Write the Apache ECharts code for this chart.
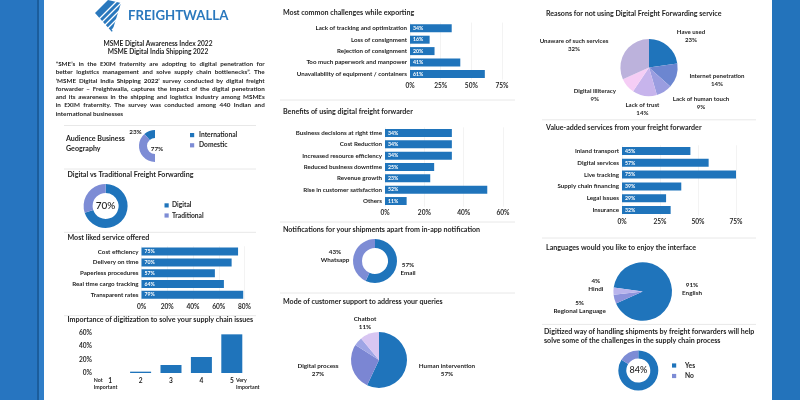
<!DOCTYPE html>
<html><head><meta charset="utf-8">
<script src="https://cdn.jsdelivr.net/npm/echarts@6/dist/echarts.min.js"></script>
<style>html,body{margin:0;padding:0;background:#fff}#c{width:800px;height:400px}</style>
</head><body><div id="c"></div>
<script>
// ---------------- DATA ----------------
const likedCats = ['Cost efficiency','Delivery on time','Paperless procedures','Real time cargo tracking','Transparent rates'];
const likedVals = [75,70,57,64,79];
const likedTicks = [0,20,40,60,80];
const importanceCats = ['1','2','3','4','5'];
const importanceVals = [0,2,12,24,58];
const importanceTicks = [0,20,40,60];
const challengeCats = ['Lack of tracking and optimization','Loss of consignment','Rejection of consignment','Too much paperwork and manpower','Unavailability of equipment / containers'];
const challengeVals = [34,16,20,41,61];
const challengeTicks = [0,25,50,75];
const benefitCats = ['Business decisions at right time','Cost Reduction','Increased resource efficiency','Reduced business downtime','Revenue growth','Rise in customer satisfaction','Others'];
const benefitVals = [34,34,34,25,23,52,11];
const benefitTicks = [0,20,40,60];
const valueCats = ['Inland transport','Digital services','Live tracking','Supply chain financing','Legal issues','Insurance'];
const valueVals = [45,57,75,39,29,32];
const valueTicks = [0,25,50,75];
const geoNames = ['International','Domestic'];
const geoVals = [23,77];
const digitalNames = ['Digital','Traditional'];
const digitalVals = [70,30];
const notifNames = ['Email','Whatsapp'];
const notifVals = [57,43];
const supportNames = ['Human intervention','Digital process','Other','Chatbot'];
const supportVals = [57,27,5,11];
const reasonNames = ['Have used','Internet penetration','Lack of human touch','Lack of trust','Digital illiteracy','Unaware of such services'];
const reasonVals = [23,14,9,14,9,32];
const langNames = ['English','Regional Language','Hindi'];
const langVals = [91,5,4];
const yesNoNames = ['Yes','No'];
const yesNoVals = [84,16];

// ---------------- STYLE ----------------
const BLUE = '#1f74bb', LIGHT = '#7d8cd5';
const FONT = 'Lato';
const TXT = '#1e1e1e';

const grids = [], xAxes = [], yAxes = [], series = [], g = [];

function hbar(cats, vals, ticks, left, width, top, height) {
  const idx = grids.length;
  grids.push({left, top, width, height, outerBoundsMode:'none', containLabel:false});
  xAxes.push({gridIndex:idx, type:'value', min:ticks[0], max:ticks[ticks.length-1], interval:ticks[1]-ticks[0],
    axisLabel:{formatter:'{value}%', fontSize:6.6, color:'#2a2a2a', fontWeight:700, fontFamily:FONT, margin:3},
    axisLine:{show:false}, axisTick:{show:false}, splitLine:{show:true, lineStyle:{color:'#f0f0f0', width:0.8}}});
  yAxes.push({gridIndex:idx, type:'category', data:cats, inverse:true,
    axisLine:{show:false}, axisTick:{show:false},
    axisLabel:{fontSize:6.2, color:TXT, fontWeight:700, fontFamily:FONT, margin:3}});
  series.push({type:'bar', xAxisIndex:idx, yAxisIndex:idx, data:vals, barWidth:8, silent:true,
    itemStyle:{color:BLUE},
    label:{show:true, position:'insideLeft', formatter:'{c}%', fontSize:5.2, color:'#fff', fontFamily:FONT, fontWeight:700, distance:3}});
}

function pie(names, vals, colors, center, radius, extra) {
  series.push(Object.assign({type:'pie', center, radius, silent:true, startAngle:90, clockwise:true,
    data:names.map((n,i)=>({name:n, value:vals[i], itemStyle:{color:colors[i]}})),
    label:{show:false}, labelLine:{show:false}, emphasis:{disabled:true}, itemStyle:{borderWidth:0}}, extra||{}));
}

function txt(x, y, text, o) {
  const s = Object.assign({text, fill:TXT, fontSize:6.5, fontWeight:700, fontFamily:FONT,
    align:'left', textAlign:'left', verticalAlign:'middle', textVerticalAlign:'middle'}, o||{});
  if (s.align) s.textAlign = s.align;
  g.push({type:'text', x, y, silent:true, z:10, style:s});
}
function ctxt(x, y, text, o) { txt(x, y, text, Object.assign({align:'center', lineHeight:8}, o||{})); }
function hline(x1, x2, y) { g.push({type:'line', silent:true, shape:{x1, y1:y, x2, y2:y}, style:{stroke:'#e8e8e8', lineWidth:1}}); }
function rect(x, y, w, h, c) { g.push({type:'rect', silent:true, shape:{x, y, width:w, height:h}, style:{fill:c}}); }
function title(x, y, text, o) { txt(x, y, text, Object.assign({fontSize:7.1, fontWeight:700}, o||{})); }

// ---------------- FRAME ----------------
rect(0, 0, 37, 400, '#2775c0');
rect(37, 0, 2, 400, '#1b5d9c');
rect(39, 0, 5, 400, '#2f7ec8');
rect(772, 0, 28, 400, '#2373bb');

// logo
g.push({type:'polygon', silent:true, shape:{points:[[95,13],[108,0],[121,3],[112,32]]}, style:{fill:'#2a78bd'}});
for (let k = 0; k < 5; k++) {
  const c = 118 + 6*k;
  g.push({type:'line', silent:true, shape:{x1:c-30, y1:30, x2:c+5, y2:-5}, style:{stroke:'#fff', lineWidth:1.3}});
}
txt(128, 16, 'FREIGHTWALLA', {fontSize:13.2, fontWeight:700, fill:'#2a78bd'});

// header and paragraph
ctxt(158, 44, 'MSME Digital Awareness Index 2022', {fontSize:6.6});
ctxt(158, 52.3, 'MSME Digital India Shipping 2022', {fontSize:6.6});
const paraLines = [
  '\u201cSME\u2019s in the EXIM fraternity are adopting to digital penetration for',
  'better logistics management and solve supply chain bottlenecks\u201d. The',
  '\u2018MSME Digital India Shipping 2022\u2019 survey conducted by digital freight',
  'forwarder \u2013 Freightwalla, captures the impact of the digital penetration',
  'and its awareness in the shipping and logistics industry among MSMEs',
  'in EXIM fraternity. The survey was conducted among 440 Indian and',
  'international businesses'
];
(function(){
  const PX = 55.7, PW = 209, FS = 6.3;
  const cv = document.createElement('canvas').getContext('2d');
  cv.font = '700 ' + FS + 'px ' + FONT;
  paraLines.forEach((line, li) => {
    const y = 64.1 + li * 8.27;
    const words = line.split(' ');
    if (li === paraLines.length - 1) { txt(PX, y, line, {fontSize:FS}); return; }
    const ws = words.map(w => cv.measureText(w).width);
    const tot = ws.reduce((a,b)=>a+b, 0);
    const gap = (PW - tot) / (words.length - 1);
    let x = PX;
    words.forEach((w, i) => { txt(x, y, w, {fontSize:FS}); x += ws[i] + gap; });
  });
})();

// separators
hline(64, 256, 125.5); hline(64, 256, 169); hline(64, 256, 232.3); hline(64, 256, 315.7);
hline(280, 515, 100); hline(280, 515, 222); hline(280, 515, 293);
hline(542, 756, 119.8); hline(542, 756, 238); hline(542, 756, 324.4);

// ---------------- LEFT COLUMN ----------------
// Audience Business Geography (half donut)
txt(66, 139.2, 'Audience Business', {fontSize:7.1});
txt(66, 148.6, 'Geography', {fontSize:7.1});
series.push({type:'pie', center:[155,146], radius:[8,16], startAngle:90, clockwise:false, silent:true,
  data:[{name:geoNames[0], value:geoVals[0], itemStyle:{color:BLUE}},
        {name:geoNames[1], value:geoVals[1], itemStyle:{color:LIGHT}},
        {name:'', value:geoVals[0]+geoVals[1], itemStyle:{color:'rgba(0,0,0,0)'}}],
  label:{show:false}, labelLine:{show:false}, emphasis:{disabled:true}});
ctxt(135.5, 132.4, geoVals[0] + '%', {fontSize:6.3});
ctxt(157, 148.6, geoVals[1] + '%', {fontSize:6.3});
rect(190, 133, 4.2, 4.2, BLUE); txt(199, 135, geoNames[0], {fontSize:6.7});
rect(190, 143.2, 4.2, 4.2, LIGHT); txt(199, 145.2, geoNames[1], {fontSize:6.7});

// Digital vs Traditional
title(67.5, 174.6, 'Digital vs Traditional Freight Forwarding');
pie(digitalNames, digitalVals, [BLUE, LIGHT], [105.6, 206], [13, 22]);
ctxt(105.6, 206, digitalVals[0] + '%', {fontSize:10, fontWeight:500});
rect(164.5, 203.3, 4.2, 4.2, BLUE); txt(172, 205.3, digitalNames[0], {fontSize:6.7});
rect(164.5, 213.4, 4.2, 4.2, LIGHT); txt(172, 215.4, digitalNames[1], {fontSize:6.7});

// Most liked service
title(67.5, 238, 'Most liked service offered');
hbar(likedCats, likedVals, likedTicks, 141.5, 103, 246.2, 54);

// Importance of digitization
title(67.5, 320, 'Importance of digitization to solve your supply chain issues');
(function(){
  const idx = grids.length;
  grids.push({left:95, top:333, width:152, height:40, outerBoundsMode:'none', containLabel:false});
  xAxes.push({gridIndex:idx, type:'category', data:importanceCats, axisLine:{show:false}, axisTick:{show:false},
    axisLabel:{fontSize:6.6, color:TXT, fontWeight:700, fontFamily:FONT, margin:4}});
  yAxes.push({gridIndex:idx, type:'value', min:importanceTicks[0], max:importanceTicks[importanceTicks.length-1],
    interval:importanceTicks[1]-importanceTicks[0], axisLine:{show:false}, axisTick:{show:false}, splitLine:{show:false},
    axisLabel:{formatter:'{value}%', fontSize:6.6, color:'#2a2a2a', fontWeight:700, fontFamily:FONT, margin:3}});
  series.push({type:'bar', xAxisIndex:idx, yAxisIndex:idx, data:importanceVals, barWidth:21, silent:true, itemStyle:{color:BLUE}});
})();
txt(93.8, 380.5, 'Not', {fontSize:5.3});
txt(93.8, 387.6, 'Important', {fontSize:5.3});
txt(236, 380.5, 'Very', {fontSize:5.3});
txt(236, 387.6, 'Important', {fontSize:5.3});

// ---------------- MIDDLE COLUMN ----------------
title(283, 13, 'Most common challenges while exporting');
hbar(challengeCats, challengeVals, challengeTicks, 410, 92, 22.6, 57);

title(283, 112, 'Benefits of using digital freight forwarder');
hbar(benefitCats, benefitVals, benefitTicks, 385, 118, 127.3, 79.4);

title(283, 230, 'Notifications for your shipments apart from in-app notification');
pie(notifNames, notifVals, [BLUE, LIGHT], [375, 261], [13, 22]);
ctxt(335, 256, notifVals[1] + '%\n' + notifNames[1], {fontSize:6.3});
ctxt(408, 269, notifVals[0] + '%\n' + notifNames[0], {fontSize:6.3});

title(283, 302, 'Mode of customer support to address your queries');
pie(supportNames, supportVals, [BLUE, '#7b86d3', '#9ea5e5', '#d8c6f2'], [379, 360], [0, 28]);
ctxt(365, 323, supportNames[3] + '\n' + supportVals[3] + '%', {fontSize:6.3});
ctxt(318, 370, supportNames[1] + '\n' + supportVals[1] + '%', {fontSize:6.3});
ctxt(447, 370, supportNames[0] + '\n' + supportVals[0] + '%', {fontSize:6.3});

// ---------------- RIGHT COLUMN ----------------
title(546, 13.5, 'Reasons for not using Digital Freight Forwarding service');
pie(reasonNames, reasonVals, [BLUE, '#6c86d0', '#9a9de0', '#c7b4ec', '#f5cdf5', '#bcb2dc'], [649, 67.5], [0, 28.6]);
const reasonPos = [[691,36.2],[717,80],[701,102.8],[642.4,109.2],[594.8,95],[574,45.5]];
reasonNames.forEach((n, i) => ctxt(reasonPos[i][0], reasonPos[i][1], n + '\n' + reasonVals[i] + '%', {fontSize:6.1}));

title(546, 128, 'Value-added services from your freight forwarder');
hbar(valueCats, valueVals, valueTicks, 622, 114, 145.2, 70.6);

title(546, 247.4, 'Languages would you like to enjoy the interface');
pie(langNames, langVals, [BLUE, '#8d93dc', '#b9b4ec'], [642.7, 291.5], [0, 29.3], {startAngle:172});
ctxt(692, 288.7, langVals[0] + '%\n' + langNames[0], {fontSize:6.3});
ctxt(595.8, 285.2, langVals[2] + '%\n' + langNames[2], {fontSize:6.3});
ctxt(579.6, 306.7, langVals[1] + '%\n' + langNames[1], {fontSize:6.3});

title(544, 331.8, 'Digitized way of handling shipments by freight forwarders will help');
title(544, 341.2, 'solve some of the challenges in the supply chain process');
pie(yesNoNames, yesNoVals, [BLUE, LIGHT], [638.3, 370.5], [12, 20]);
ctxt(638.3, 370.5, yesNoVals[0] + '%', {fontSize:9, fontWeight:500});
rect(672, 363.4, 4.2, 4.2, BLUE); txt(685, 365.5, yesNoNames[0], {fontSize:6.7});
rect(672, 373.9, 4.2, 4.2, LIGHT); txt(685, 376, yesNoNames[1], {fontSize:6.7});

// ---------------- CHART ----------------
const chart = echarts.init(document.getElementById('c'));
chart.setOption({
  animation:false,
  backgroundColor:'#fff',
  textStyle:{fontFamily:FONT},
  grid:grids, xAxis:xAxes, yAxis:yAxes, series:series,
  graphic:{elements:g}
});
</script></body></html>
